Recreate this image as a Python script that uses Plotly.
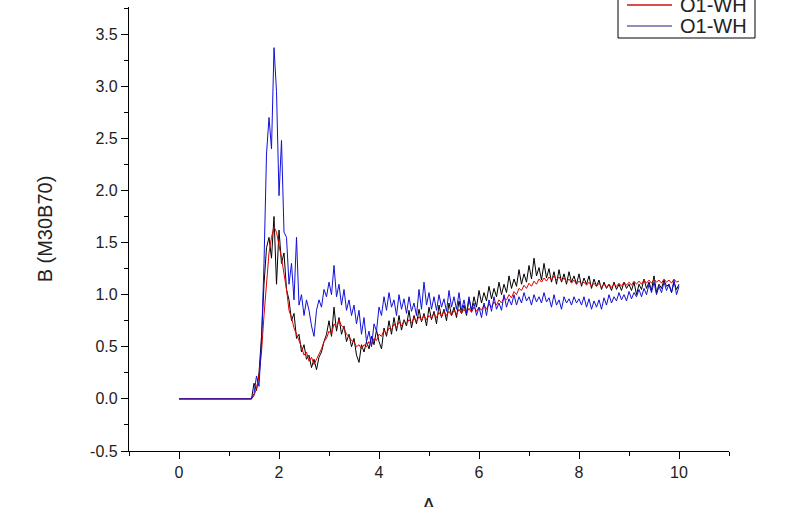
import plotly.graph_objects as go

# sampling grid: x = 0, then 1.45 .. 10.00 step 0.05
X_START = 1.45
X_STEP = 0.05

K_Y = [0.00, 0.15, 0.08, 0.25, 0.60, 1.10, 1.45, 1.55, 1.35, 1.75, 1.10, 1.62,
       1.30, 1.40, 1.05, 0.95, 0.75, 0.82, 0.58, 0.62, 0.45, 0.52, 0.38, 0.42,
       0.30, 0.38, 0.28, 0.40, 0.45, 0.55, 0.62, 0.75, 0.60, 0.88, 0.65, 0.78,
       0.62, 0.70, 0.55, 0.62, 0.50, 0.58, 0.42, 0.35, 0.52, 0.45, 0.55, 0.48,
       0.60, 0.52, 0.66, 0.55, 0.48, 0.68, 0.60, 0.75, 0.62, 0.78, 0.65, 0.80,
       0.66, 0.76, 0.70, 0.85, 0.68, 0.80, 0.72, 0.86, 0.74, 0.82, 0.70, 0.88,
       0.76, 0.84, 0.72, 0.90, 0.78, 0.86, 0.75, 0.92, 0.80, 0.88, 0.78, 0.94,
       0.82, 0.90, 0.80, 0.96, 0.85, 0.98, 0.88, 1.04, 0.92, 1.02, 0.94, 1.08,
       0.96, 1.06, 0.98, 1.12, 1.00, 1.10, 1.02, 1.18, 1.06, 1.15, 1.08, 1.24,
       1.10, 1.20, 1.12, 1.28, 1.15, 1.35, 1.18, 1.26, 1.14, 1.30, 1.16, 1.25,
       1.12, 1.22, 1.10, 1.24, 1.12, 1.20, 1.10, 1.22, 1.12, 1.18, 1.10, 1.20,
       1.08, 1.16, 1.10, 1.18, 1.06, 1.15, 1.08, 1.14, 1.05, 1.12, 1.06, 1.10,
       1.04, 1.12, 1.05, 1.10, 1.04, 1.12, 1.06, 1.10, 1.04, 1.12, 1.00, 1.10,
       1.05, 1.15, 1.06, 1.12, 1.04, 1.18, 1.02, 1.10, 1.06, 1.14, 1.08, 1.10,
       1.02, 1.12, 1.05, 1.10]

R_Y = [0.00, 0.03, 0.10, 0.22, 0.45, 0.80, 1.15, 1.40, 1.55, 1.65, 1.60, 1.48,
       1.35, 1.20, 1.05, 0.85, 0.78, 0.68, 0.62, 0.55, 0.50, 0.42, 0.45, 0.36,
       0.40, 0.33, 0.38, 0.42, 0.48, 0.55, 0.58, 0.65, 0.62, 0.72, 0.68, 0.76,
       0.70, 0.68, 0.62, 0.60, 0.56, 0.55, 0.50, 0.52, 0.48, 0.52, 0.50, 0.55,
       0.52, 0.58, 0.56, 0.62, 0.60, 0.66, 0.62, 0.68, 0.66, 0.72, 0.68, 0.74,
       0.70, 0.75, 0.72, 0.76, 0.73, 0.78, 0.74, 0.79, 0.75, 0.80, 0.76, 0.80,
       0.77, 0.82, 0.78, 0.83, 0.79, 0.84, 0.80, 0.84, 0.80, 0.85, 0.81, 0.86,
       0.82, 0.86, 0.82, 0.87, 0.83, 0.88, 0.84, 0.88, 0.85, 0.90, 0.86, 0.91,
       0.88, 0.93, 0.90, 0.95, 0.92, 0.97, 0.95, 1.00, 0.97, 1.03, 1.00, 1.06,
       1.04, 1.09, 1.06, 1.11, 1.08, 1.13, 1.10, 1.15, 1.12, 1.16, 1.13, 1.17,
       1.14, 1.18, 1.14, 1.17, 1.13, 1.16, 1.12, 1.15, 1.11, 1.14, 1.10, 1.13,
       1.10, 1.12, 1.09, 1.12, 1.08, 1.11, 1.08, 1.11, 1.07, 1.10, 1.07, 1.10,
       1.07, 1.10, 1.08, 1.11, 1.08, 1.12, 1.09, 1.12, 1.09, 1.13, 1.10, 1.13,
       1.10, 1.14, 1.11, 1.14, 1.11, 1.15, 1.12, 1.14, 1.11, 1.15, 1.12, 1.14,
       1.11, 1.15, 1.12, 1.13]

B_Y = [0.00, 0.05, 0.22, 0.12, 0.55, 1.30, 2.35, 2.70, 2.40, 3.37, 2.95, 1.95,
       2.48, 1.60, 1.55, 1.10, 1.30, 0.95, 1.55, 0.90, 1.00, 0.80, 0.95, 0.85,
       0.70, 0.60, 0.85, 0.95, 0.88, 1.05, 0.98, 1.12, 1.00, 1.28, 0.98, 1.10,
       0.90, 1.05, 0.85, 0.95, 0.80, 0.90, 0.72, 0.85, 0.62, 0.78, 0.55, 0.65,
       0.50, 0.72, 0.65, 0.88, 0.80, 0.98, 0.85, 1.02, 0.88, 0.95, 0.80, 1.00,
       0.86, 0.96, 0.82, 0.98, 0.84, 0.92, 0.80, 1.05, 0.86, 1.12, 0.90, 1.02,
       0.86, 0.98, 0.85, 1.00, 0.88, 0.96, 0.84, 1.04, 0.88, 0.98, 0.86, 1.02,
       0.85, 0.95, 0.82, 0.98, 0.84, 0.92, 0.80, 0.88, 0.78, 0.92, 0.80, 0.95,
       0.84, 0.98, 0.86, 0.92, 0.85, 1.00, 0.88, 0.96, 0.90, 1.00, 0.90, 0.98,
       0.92, 1.02, 0.94, 0.98, 0.90, 1.00, 0.93, 0.98, 0.92, 1.02, 0.93, 0.97,
       0.88, 1.00, 0.90, 0.95, 0.86, 0.98, 0.92, 0.96, 0.90, 0.98, 0.92, 0.96,
       0.90, 0.98, 0.88, 0.96, 0.86, 0.94, 0.88, 0.95, 0.86, 0.97, 0.90, 1.00,
       0.92, 0.98, 0.94, 1.02, 0.95, 1.00, 0.94, 1.03, 0.96, 1.02, 0.98, 1.05,
       0.98, 1.06, 1.00, 1.10, 1.02, 1.12, 1.00, 1.08, 1.02, 1.12, 1.04, 1.10,
       1.02, 1.14, 1.00, 1.08]

for arr in (K_Y, R_Y, B_Y):
    assert len(arr) == 172, len(arr)

X = [0.0] + [round(X_START + X_STEP * i, 2) for i in range(172)]
SERIES_NAMES = ["O1-WH", "O1-WH", "O1-WH"]
SERIES_Y = [[0.0] + K_Y, [0.0] + R_Y, [0.0] + B_Y]
SERIES_COLORS = ["#000000", "#e00000", "#1010d8"]

X_TICKS = [0, 2, 4, 6, 8, 10]
Y_TICKS = [-0.5, 0.0, 0.5, 1.0, 1.5, 2.0, 2.5, 3.0, 3.5]
Y_LABELS = ["-0.5", "0.0", "0.5", "1.0", "1.5", "2.0", "2.5", "3.0", "3.5"]
X_TITLE = "A"
Y_TITLE = "B (M30B70)"

FONT = "Arial, Liberation Sans, sans-serif"

# plot-area geometry (px) used to place the hand-drawn legend box
W, H = 800, 507
ML, MR, MT, MB = 129, 71, 7, 56
PW, PH = W - ML - MR, H - MT - MB


def px_x(px):
    return (px - ML) / PW


def px_y(py):
    return (H - MB - py) / PH


fig = go.Figure()
for name, ys, color in zip(SERIES_NAMES, SERIES_Y, SERIES_COLORS):
    fig.add_trace(go.Scatter(x=X, y=ys, mode="lines", name=name,
                             line=dict(color=color, width=1)))

# legend (Origin-style box, partly cut off at the top like the reference)
shapes = [dict(type="rect", xref="paper", yref="paper",
               x0=px_x(618), x1=px_x(755), y0=px_y(38), y1=px_y(-40),
               line=dict(color="black", width=1), fillcolor="white", layer="above")]
annotations = []
LEG_ROWS = [-16, 5, 26]
LEG_LINE_COLORS = ["#000000", "#d01010", "#20207a"]
for row_y, name, col in zip(LEG_ROWS, SERIES_NAMES, LEG_LINE_COLORS):
    shapes.append(dict(type="line", xref="paper", yref="paper",
                       x0=px_x(627), x1=px_x(672), y0=px_y(row_y), y1=px_y(row_y),
                       line=dict(color=col, width=1.5 if col == "#d01010" else 1), layer="above"))
    annotations.append(dict(xref="paper", yref="paper", x=px_x(678), y=px_y(row_y),
                            xanchor="left", yanchor="middle", showarrow=False,
                            text=name, font=dict(family=FONT, size=20, color="#222")))

# x-axis title, sitting low so that it is cut by the bottom edge as in the reference
annotations.append(dict(xref="paper", yref="paper", x=0.5, y=px_y(492),
                        xanchor="center", yanchor="top", showarrow=False,
                        text=X_TITLE, font=dict(family=FONT, size=20, color="#222")))

axis_common = dict(
    showline=True, linecolor="black", linewidth=1.3,
    ticks="outside", ticklen=7, tickwidth=1.3, tickcolor="black",
    showgrid=False, zeroline=False, mirror=False,
    tickfont=dict(family=FONT, size=16, color="#222"),
)

fig.update_layout(
    width=W, height=H,
    margin=dict(l=ML, r=MR, t=MT, b=MB, autoexpand=False),
    plot_bgcolor="white", paper_bgcolor="white",
    font=dict(family=FONT, color="#222"),
    showlegend=False,
    shapes=shapes, annotations=annotations,
    xaxis=dict(
        range=[-1, 11], tickvals=X_TICKS, ticktext=[str(v) for v in X_TICKS],
        minor=dict(ticks="outside", ticklen=4, tickwidth=1.3, tickcolor="black", dtick=1),
        **axis_common,
    ),
    yaxis=dict(
        range=[-0.5, 3.76], tickvals=Y_TICKS, ticktext=Y_LABELS,
        minor=dict(ticks="outside", ticklen=4, tickwidth=1.3, tickcolor="black", dtick=0.25, tick0=0),
        title=dict(text=Y_TITLE, font=dict(family=FONT, size=20, color="#222"), standoff=32),
        **axis_common,
    ),
)

fig.write_html("out.html", config={"displayModeBar": False},
               post_script="document.body.style.margin='0';")
